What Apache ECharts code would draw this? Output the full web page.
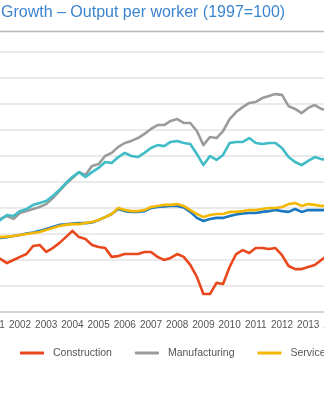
<!DOCTYPE html>
<html>
<head>
<meta charset="utf-8">
<style>
html,body{margin:0;padding:0;width:324px;height:400px;overflow:hidden;background:#fff;}
#chart{position:absolute;left:-50px;top:0;width:800px;height:400px;}
</style>
<script src="https://cdn.jsdelivr.net/npm/echarts@6/dist/echarts.min.js"></script>
</head>
<body>
<div id="chart"></div>
<script>
// Quarterly data, 2001 Q1 .. 2014 Q1 (index 1997 = 100)
const startYear = 2001;
const yearTicks = [2001,2002,2003,2004,2005,2006,2007,2008,2009,2010,2011,2012,2013,2014];
const construction = [101.2,100.4,98.8,100.0,101.2,102.3,105.4,105.8,103.1,104.6,106.5,108.8,111.2,108.8,108.1,105.8,105.0,104.6,101.2,101.5,102.3,102.3,102.3,103.1,103.1,101.2,100.0,100.8,102.3,101.2,98.1,93.5,86.9,86.9,91.2,90.8,97.3,102.3,103.8,102.7,104.6,104.6,104.2,104.6,101.9,97.7,96.5,96.5,97.3,98.1,100.0,101.9,103.1];
const manufacturing = [114.6,115.8,116.9,115.8,118.1,118.8,119.6,120.4,121.5,123.8,126.5,129.2,131.5,133.8,132.7,136.2,136.9,140.0,141.2,143.5,145.0,145.8,146.9,148.5,150.4,151.9,151.9,153.5,154.2,152.7,152.7,149.6,144.2,147.3,146.9,149.6,154.2,156.9,158.8,160.4,160.8,162.3,163.1,163.8,163.5,159.2,158.1,156.5,158.5,159.6,158.1,157.7,157.7];
const services = [108.5,108.8,109.0,109.2,109.6,110.0,110.4,110.8,111.5,112.3,113.1,113.5,113.8,113.8,114.2,114.6,115.4,116.5,117.7,120.0,119.2,118.8,118.8,119.2,120.4,120.8,121.2,121.2,121.5,120.8,119.2,117.7,116.5,117.3,117.7,117.7,118.5,118.5,118.8,119.2,119.2,119.6,120.0,120.0,120.4,121.5,121.9,120.8,121.5,121.2,120.8,120.8,120.8];
const wholeEconomy = [108.3,108.5,108.8,109.2,109.6,110.2,110.6,111.2,111.9,112.7,113.5,113.7,114.0,114.2,114.2,114.4,115.4,116.5,117.7,119.6,118.8,118.5,118.5,118.8,120.0,120.4,120.6,120.8,120.8,120.2,118.5,116.2,115.0,115.8,116.2,116.2,116.9,117.5,117.9,118.1,118.1,118.5,118.8,119.2,118.8,118.5,119.6,118.5,119.2,119.2,119.2,119.2,119.2];
const production = [114.2,115.4,117.3,116.9,118.8,119.6,121.2,121.9,122.7,124.6,126.9,129.6,131.9,133.8,131.9,133.8,135.4,137.7,137.3,139.6,141.2,140.0,139.6,141.2,143.1,144.2,143.8,145.4,145.8,145.0,144.6,140.8,136.5,140.0,138.5,140.4,145.0,145.4,145.4,146.9,145.0,144.6,145.0,145.0,143.1,139.6,137.7,136.5,138.1,139.6,138.8,138.5,138.5];

const toPairs = arr => arr.map((v, i) => [startYear + i / 4, v]);

const chart = echarts.init(document.getElementById('chart'), null, {renderer: 'canvas'});
const mk = (name, data, color, z) => ({
  name, type: 'line', data: toPairs(data), symbol: 'none', smooth: false, z,
  lineStyle: {color, width: 2.6, join: 'round', cap: 'round'}, itemStyle: {color}
});
chart.setOption({
  animation: false,
  title: {
    text: 'Growth – Output per worker (1997=100)',
    left: 51, top: 5, padding: 0,
    textStyle: {fontFamily: 'Liberation Sans, Arial, sans-serif', fontSize: 16, fontWeight: 'normal', color: '#3b84d0'}
  },
  graphic: [{
    type: 'line', shape: {x1: 0, y1: 31.5, x2: 800, y2: 31.5},
    style: {stroke: '#b9b9b9', lineWidth: 1.6}
  }],
  legend: {
    left: 70, top: 347.5, padding: 0, itemGap: 23, itemWidth: 24, itemHeight: 3,
    icon: 'roundRect', width: 700,
    data: ['Construction', 'Manufacturing', 'Services', 'Whole economy', 'Production'],
    textStyle: {fontFamily: 'Liberation Sans, Arial, sans-serif', fontSize: 10.5, color: '#555', padding: [0, 0, 0, 4]}
  },
  grid: {left: 43.8, width: 340.6, top: 52, height: 260, containLabel: false, outerBoundsMode: 'none'},
  xAxis: {
    type: 'value', min: yearTicks[0], max: yearTicks[yearTicks.length - 1], interval: 1,
    axisLine: {show: true, lineStyle: {color: '#d4d4d4', width: 2}},
    axisTick: {show: false},
    splitLine: {show: false},
    axisLabel: {
      margin: 8, color: '#555', fontSize: 10, fontFamily: 'Liberation Sans, Arial, sans-serif',
      showMinLabel: true, showMaxLabel: true, hideOverlap: false,
      formatter: v => String(Math.round(v))
    }
  },
  yAxis: {
    type: 'value', min: 80, max: 180, interval: 10,
    axisLine: {show: false}, axisTick: {show: false}, axisLabel: {show: false},
    splitLine: {lineStyle: {color: '#e3e3e3', width: 1.5}}
  },
  series: [
    mk('Construction', construction, '#e8481c', 2),
    mk('Manufacturing', manufacturing, '#9b9b9b', 3),
    mk('Whole economy', wholeEconomy, '#1b78c0', 4),
    mk('Services', services, '#f5b800', 5),
    mk('Production', production, '#3fbcc6', 6)
  ]
});
</script>
</body>
</html>
